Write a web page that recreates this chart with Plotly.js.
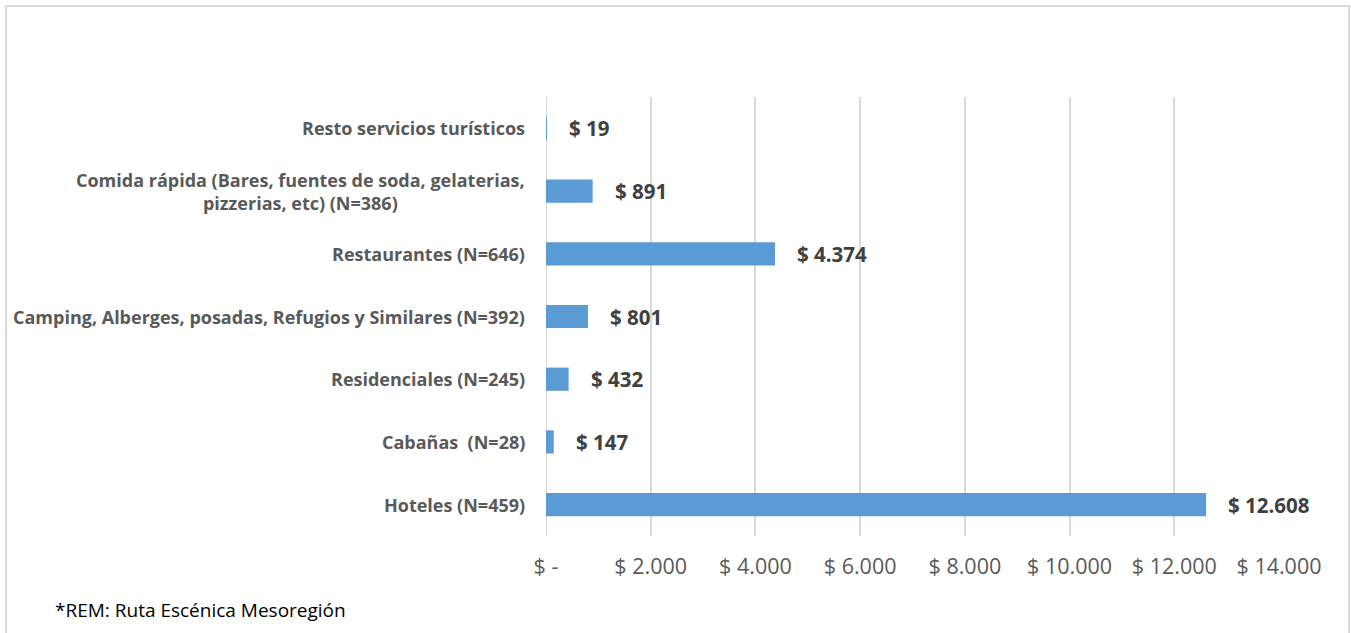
<!DOCTYPE html>
<html>
<head>
<meta charset="utf-8">
<script src="https://cdn.plot.ly/plotly-3.0.1.min.js"></script>
<style>
  html, body { margin: 0; padding: 0; background: #ffffff; }
  #frame { position: absolute; left: 5px; top: 5px; width: 1341px; height: 700px;
           border-left: 2px solid #d9d9d9; border-top: 2px solid #d9d9d9; border-right: 2px solid #d9d9d9; }
  #chart { position: absolute; left: 0; top: 0; width: 1351px; height: 633px; }
</style>
</head>
<body>
<div id="frame"></div>
<div id="chart"></div>
<script>
// Data (bottom to top, as drawn)
const categories = [
  "Hoteles (N=459)",
  "Cabañas  (N=28)",
  "Residenciales (N=245)",
  "Camping, Alberges, posadas, Refugios y Similares (N=392)",
  "Restaurantes (N=646)",
  "Comida rápida (Bares, fuentes de soda, gelaterias,<br>pizzerias, etc) (N=386)",
  "Resto servicios turísticos"
];
const values = [12608, 147, 432, 801, 4374, 891, 19];
const tickValues = [0, 2000, 4000, 6000, 8000, 10000, 12000, 14000];
const tickLabels = ["$ -", "$ 2.000", "$ 4.000", "$ 6.000", "$ 8.000", "$ 10.000", "$ 12.000", "$ 14.000"];
const footnote = "*REM: Ruta Escénica Mesoregión";

function fmt(v) {
  return "$ " + String(v).replace(/\B(?=(\d{3})+(?!\d))/g, ".");
}

const FONT = "'Open Sans', 'Noto Sans', sans-serif";
const W = 1351, H = 633;
const mL = 546, mR = 72, mT = 97, mB = 97;
const plotW = W - mL - mR;

const trace = {
  type: "bar",
  orientation: "h",
  x: values,
  y: categories,
  marker: { color: "#5b9bd5" },
  hoverinfo: "none"
};

const annotations = [];
categories.forEach((c, i) => {
  annotations.push({
    xref: "paper", yref: "y", x: 0, y: c,
    xanchor: "right", yanchor: "middle", xshift: -19,
    align: "center", showarrow: false, text: "<b>" + c + "</b>",
    font: { family: FONT, size: 18, color: "#595959" }
  });
  annotations.push({
    xref: "x", yref: "y", x: values[i], y: c,
    xanchor: "left", yanchor: "middle", xshift: 20,
    showarrow: false, text: "<b>" + fmt(values[i]) + "</b>",
    font: { family: FONT, size: 20.5, color: "#404040" }
  });
});
annotations.push({
  xref: "paper", yref: "paper",
  x: (53 - mL) / plotW, y: -(610 - (H - mB)) / (H - mT - mB),
  xanchor: "left", yanchor: "middle", showarrow: false,
  text: footnote, font: { family: FONT, size: 19, color: "#000000" }
});

const layout = {
  width: W, height: H,
  margin: { l: mL, r: mR, t: mT, b: mB, pad: 0 },
  paper_bgcolor: "rgba(0,0,0,0)",
  plot_bgcolor: "rgba(0,0,0,0)",
  bargap: 0.63,
  showlegend: false,
  xaxis: {
    range: [0, 14000],
    tickvals: tickValues,
    ticktext: tickLabels,
    showgrid: true, gridcolor: "#d9d9d9", gridwidth: 2,
    zeroline: false, showline: false, ticks: "",
    ticklabelstandoff: 15,
    tickfont: { family: FONT, size: 21.5, color: "#595959" },
    fixedrange: true
  },
  yaxis: {
    type: "category",
    categoryorder: "array", categoryarray: categories,
    range: [-0.5, 6.5],
    showgrid: false, zeroline: false, showline: false, ticks: "",
    showticklabels: false,
    fixedrange: true
  },
  shapes: [{
    type: "line", xref: "x", yref: "paper", x0: 0, x1: 0, y0: 0, y1: 1,
    line: { color: "#d9d9d9", width: 2 }, layer: "below"
  }],
  annotations: annotations
};

Plotly.newPlot("chart", [trace], layout, { displayModeBar: false, staticPlot: true });
</script>
</body>
</html>
